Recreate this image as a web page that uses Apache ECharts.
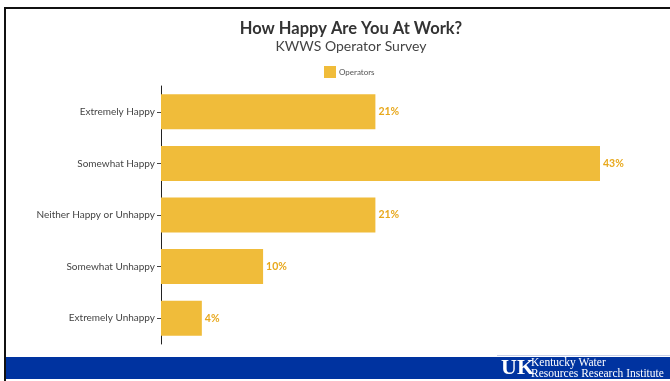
<!DOCTYPE html>
<html>
<head>
<meta charset="utf-8">
<script src="https://cdn.jsdelivr.net/npm/echarts@6/dist/echarts.min.js"></script>
<style>
  html, body { margin: 0; padding: 0; background: #fff; }
  #chart { width: 670px; height: 381px; }
</style>
</head>
<body>
<div id="chart"></div>
<script>
// survey answers, top to bottom
const categories = ['Extremely Happy', 'Somewhat Happy', 'Neither Happy or Unhappy', 'Somewhat Unhappy', 'Extremely Unhappy'];
const operators = [21, 43, 21, 10, 4];

const chart = echarts.init(document.getElementById('chart'));
const option = {
  animation: false,
  title: {
    text: 'How Happy Are You At Work?',
    subtext: 'KWWS Operator Survey',
    left: 346,
    textAlign: 'center',
    top: 15,
    itemGap: 2,
    textStyle: { fontFamily: 'Lato', fontSize: 16.5, fontWeight: 'bold', color: '#333' },
    subtextStyle: { fontFamily: 'Lato', fontSize: 14, color: '#444' }
  },
  legend: {
    data: ['Operators'],
    top: 61,
    left: 319,
    itemWidth: 12,
    itemHeight: 12,
    itemGap: 4,
    icon: 'rect',
    textStyle: { fontFamily: 'Lato', fontSize: 8, color: '#555', padding: [0, 0, 0, -2] }
  },
  grid: { left: 161, right: 70, top: 86, height: 258, containLabel: false },
  xAxis: {
    type: 'value',
    min: 0,
    max: 43,
    show: false
  },
  yAxis: {
    type: 'category',
    data: categories,
    inverse: true,
    axisLine: { show: true, lineStyle: { color: '#222', width: 1 } },
    axisTick: { show: true, length: 4, alignWithLabel: true, lineStyle: { color: '#444' } },
    axisLabel: { fontFamily: 'Lato', fontSize: 10, color: '#444', margin: 6 }
  },
  series: [{
    name: 'Operators',
    type: 'bar',
    data: operators,
    barWidth: 35,
    itemStyle: { color: '#f0bc3a' },
    label: {
      show: true,
      position: 'right',
      distance: 3,
      formatter: '{c}%',
      fontFamily: 'Lato',
      fontWeight: 'bold',
      fontSize: 10.5,
      color: '#e8a81c'
    }
  }],
  graphic: [
    // frame lines
    { type: 'rect', shape: { x: 4, y: 7, width: 666, height: 2 }, style: { fill: '#111' } },
    { type: 'rect', shape: { x: 4, y: 7, width: 2, height: 374 }, style: { fill: '#111' } },
    // footer band
    { type: 'rect', shape: { x: 6, y: 357, width: 664, height: 22 }, style: { fill: '#0033a0' } },
    { type: 'rect', shape: { x: 497, y: 355, width: 173, height: 1 }, style: { fill: '#c8d0e8' } },
    {
      type: 'text', left: 501, top: 357,
      style: { text: 'UK', fontFamily: 'Liberation Serif', fontWeight: 'bold', fontSize: 22, fill: '#fff' }
    },
    {
      type: 'text', left: 531, top: 357,
      style: { text: 'Kentucky Water\nResources Research Institute', fontFamily: 'Liberation Serif', fontSize: 11.5, lineHeight: 11, fill: '#fff' }
    }
  ]
};
chart.setOption(option);
</script>
</body>
</html>
